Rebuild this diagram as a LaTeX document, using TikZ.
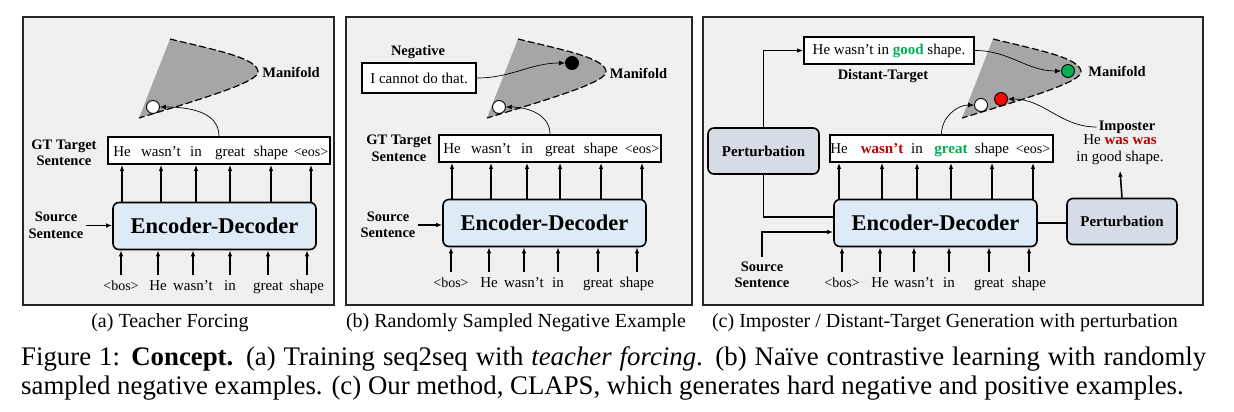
\documentclass[tikz,border=0pt]{standalone}
\usepackage{fontspec}
\setmainfont{Liberation Serif}
\usetikzlibrary{arrows.meta}

\definecolor{panelbg}{HTML}{F0F0F0}
\definecolor{encblue}{HTML}{DEEBF7}
\definecolor{pertgray}{HTML}{D6DCE5}
\definecolor{mangray}{HTML}{A6A6A6}
\definecolor{goodgreen}{HTML}{00B050}
\definecolor{badred}{HTML}{C00000}

\newcommand\goodw[1]{\textbf{\color{goodgreen}#1}}
\newcommand\badw[1]{\textbf{\color{badred}#1}}

\tikzset{
  panel/.style={draw=black!85, line width=2.2pt, fill=panelbg},
  wordbox/.style={draw, line width=1.8pt, fill=white, minimum height=27pt, inner sep=0pt},
  encbox/.style={draw, line width=1.6pt, rounded corners=6pt, fill=encblue,
    minimum width=203pt, minimum height=47pt, font=\fontsize{22.5}{24}\selectfont\bfseries},
  pertbox/.style={draw, line width=1.6pt, rounded corners=6pt, fill=pertgray,
    minimum width=110pt, minimum height=46pt, font=\fontsize{15}{17}\selectfont\bfseries},
  word/.style={font=\fontsize{15}{17}\selectfont, anchor=base, inner sep=0pt,
    text height=10pt, text depth=3pt},
  tag/.style={word, font=\fontsize{14}{16}\selectfont},
  lbl/.style={font=\fontsize{14.5}{16.5}\selectfont\bfseries, align=center, inner sep=2pt},
  sent/.style={draw, line width=1.8pt, fill=white, font=\fontsize{15}{17}\selectfont, inner sep=0pt},
  dot/.style={circle, draw, line width=0.9pt, minimum size=13pt, inner sep=0pt},
  arr/.style={line width=1.2pt, -{Latex[length=6pt,width=4.5pt]}},
  link/.style={line width=1.6pt},
  thin/.style={line width=0.7pt, -{Latex[length=6pt,width=5pt]}},
  subcap/.style={font=\fontsize{20}{22}\selectfont, anchor=base},
  figcap/.style={font=\fontsize{26.8}{29}\selectfont, anchor=base west, inner sep=0pt},
}

% manifold patch, shifted along x
\newcommand\manifold[1]{%
  \begin{scope}[xshift=#1pt]
    \fill[mangray] (139,118) -- (170,39) .. controls (215,50) and (258,58) .. (258,72)
      .. controls (258,82) and (205,98) .. (139,118);
    \draw[line width=1.2pt, dash pattern=on 7pt off 3pt] (170,39) .. controls (215,50) and (258,58) .. (258,72)
      .. controls (258,82) and (205,98) .. (139,118);
  \end{scope}}

\begin{document}
\begin{tikzpicture}[x=1pt,y=-1pt]
  \useasboundingbox (0,0) rectangle (1234,412);
  \draw[panel] (23,17) rectangle (334,305);
  \draw[panel] (346,17) rectangle (692,305);
  \draw[panel] (703,17) rectangle (1203,305);

  % (a) teacher forcing
  \manifold{0}
  \node[lbl] (manA) at (291,72) {Manifold};
  \node[dot, fill=white] (wA) at (153,107) {};
  \node[wordbox, minimum width=222pt] (gtA) at (219,150.5) {};
  \node[lbl] (gtlA) at (64,153) {GT Target\\Sentence};
  \node[word] (tA1) at (122,156) {He};
  \node[word] (tA2) at (161,156) {wasn't};
  \node[word] (tA3) at (196,156) {in};
  \node[word] (tA4) at (230,156) {great};
  \node[word] (tA5) at (271,156) {shape};
  \node[tag] (tA6) at (311,156) {\textless eos\textgreater};
  \node[encbox] (encA) at (214.5,226) {Encoder-Decoder};
  \node[lbl] (srcA) at (56,225.5) {Source\\Sentence};
  \node[tag] (bA1) at (121,290) {\textless bos\textgreater};
  \node[word] (bA2) at (158,290) {He};
  \node[word] (bA3) at (193,290) {wasn't};
  \node[word] (bA4) at (230,290) {in};
  \node[word] (bA5) at (268,290) {great};
  \node[word] (bA6) at (307,290) {shape};
  \draw[arr] (srcA.east) -- (encA.west |- srcA.east);
  \foreach \i in {1,...,6} {
    \draw[arr] (encA.north -| tA\i) -- (gtA.south -| tA\i);
    \draw[arr] ([yshift=5pt]bA\i.north) -- (encA.south -| bA\i);
  }
  \draw[thin] (gtA.north) to[out=90,in=0] (wA.east);

  % (b) random negative
  \manifold{348}
  \node[lbl] (manB) at (638.5,73) {Manifold};
  \node[dot, fill=white] (wB) at (499,107) {};
  \node[dot, fill=black] (kB) at (572,63) {};
  \node[lbl] (neglB) at (418,52) {Negative};
  \node[sent, minimum width=114pt, minimum height=30pt] (negB) at (419,78) {I cannot do that.};
  \node[wordbox, minimum width=222pt] (gtB) at (550,148.5) {};
  \node[lbl] (gtlB) at (399,148.5) {GT Target\\Sentence};
  \node[word] (tB1) at (452,153) {He};
  \node[word] (tB2) at (491,153) {wasn't};
  \node[word] (tB3) at (527,153) {in};
  \node[word] (tB4) at (560,153) {great};
  \node[word] (tB5) at (601,153) {shape};
  \node[tag] (tB6) at (642,153) {\textless eos\textgreater};
  \node[encbox] (encB) at (544.5,223) {Encoder-Decoder};
  \node[lbl] (srcB) at (388,225) {Source\\Sentence};
  \node[tag] (bB1) at (451,287) {\textless bos\textgreater};
  \node[word] (bB2) at (489,287) {He};
  \node[word] (bB3) at (524,287) {wasn't};
  \node[word] (bB4) at (558,287) {in};
  \node[word] (bB5) at (598,287) {great};
  \node[word] (bB6) at (637,287) {shape};
  \draw[arr] (srcB.east) -- (encB.west |- srcB.east);
  \foreach \i in {1,...,6} {
    \draw[arr] (encB.north -| tB\i) -- (gtB.south -| tB\i);
    \draw[arr] ([yshift=5pt]bB\i.north) -- (encB.south -| bB\i);
  }
  \draw[thin] (gtB.north) to[out=90,in=0] (wB.east);
  \draw[thin] (negB.east) to[out=0,in=180] (kB.west);

  % (c) imposter / distant target
  \manifold{823}
  \node[lbl] (manC) at (1117,71) {Manifold};
  \node[dot, fill=white] (wC) at (981,105) {};
  \node[dot, fill=red] (rC) at (1001,99) {};
  \node[dot, fill=goodgreen] (gC) at (1068,71) {};
  \node[sent, minimum width=170pt, minimum height=27pt] (distC) at (889,50.5) {He wasn't in \goodw{good} shape.};
  \node[lbl] (distlC) at (883,76) {Distant-Target};
  \node[pertbox, minimum width=111pt] (pertL) at (763.5,151) {Perturbation};
  \node[wordbox, minimum width=223pt] (gtC) at (941.5,148.5) {};
  \node[word] (tC1) at (839,153) {He};
  \node[word] (tC2) at (882,153) {\badw{wasn't}};
  \node[word] (tC3) at (917,153) {in};
  \node[word] (tC4) at (951,153) {\goodw{great}};
  \node[word] (tC5) at (992,153) {shape};
  \node[tag] (tC6) at (1033,153) {\textless eos\textgreater};
  \node[encbox] (encC) at (935.5,223) {Encoder-Decoder};
  \node[pertbox] (pertR) at (1122,221.5) {Perturbation};
  \node[lbl] (implC) at (1127,127) {Imposter};
  \node[font=\fontsize{15}{17}\selectfont, align=center, inner sep=0pt] (impC) at (1120,149.5)
    {He \badw{was was}\\in good shape.};
  \node[lbl] (srcC) at (762,275) {Source\\Sentence};
  \node[tag] (bC1) at (842,287) {\textless bos\textgreater};
  \node[word] (bC2) at (880,287) {He};
  \node[word] (bC3) at (914,287) {wasn't};
  \node[word] (bC4) at (949,287) {in};
  \node[word] (bC5) at (989,287) {great};
  \node[word] (bC6) at (1029,287) {shape};
  \foreach \i in {1,...,6} {
    \draw[arr] (encC.north -| tC\i) -- (gtC.south -| tC\i);
    \draw[arr] ([yshift=5pt]bC\i.north) -- (encC.south -| bC\i);
  }
  \draw[arr, line width=1.6pt] (pertL.north) |- (distC.west);
  \draw[link] (pertL.south) |- ([yshift=6pt]encC.west);
  \draw[arr, line width=1.6pt] ([yshift=3pt]srcC.north) |- ([yshift=-9pt]encC.west);
  \draw[link] (encC.east) -- (pertR.west |- encC.east);
  \draw[arr, line width=1.6pt] (pertR.north) -- ([yshift=-6pt]impC.south);
  \draw[thin] (gtC.north) to[out=90,in=180] (wC.west);
  \draw[thin] (distC.east) to[out=0,in=180] (gC.west);
  \draw[thin] (implC.west) to[out=180,in=0] (rC.east);

  % captions
  \node[subcap] (capA) at (170,327) {(a) Teacher Forcing};
  \node[subcap] (capB) at (516,327) {(b) Randomly Sampled Negative Example};
  \node[subcap] (capC) at (945,327) {(c) Imposter / Distant-Target Generation with perturbation};
  \node[figcap] (fig1) at (21,365) {\makebox[1185pt][s]{Figure 1: \textbf{Concept.} (a) Training seq2seq with \textit{teacher forcing}. (b) Naïve contrastive learning with randomly}};
  \node[figcap] (fig2) at (21,394) {sampled negative examples. (c) Our method, CLAPS, which generates hard negative and positive examples.};
\end{tikzpicture}
\end{document}
